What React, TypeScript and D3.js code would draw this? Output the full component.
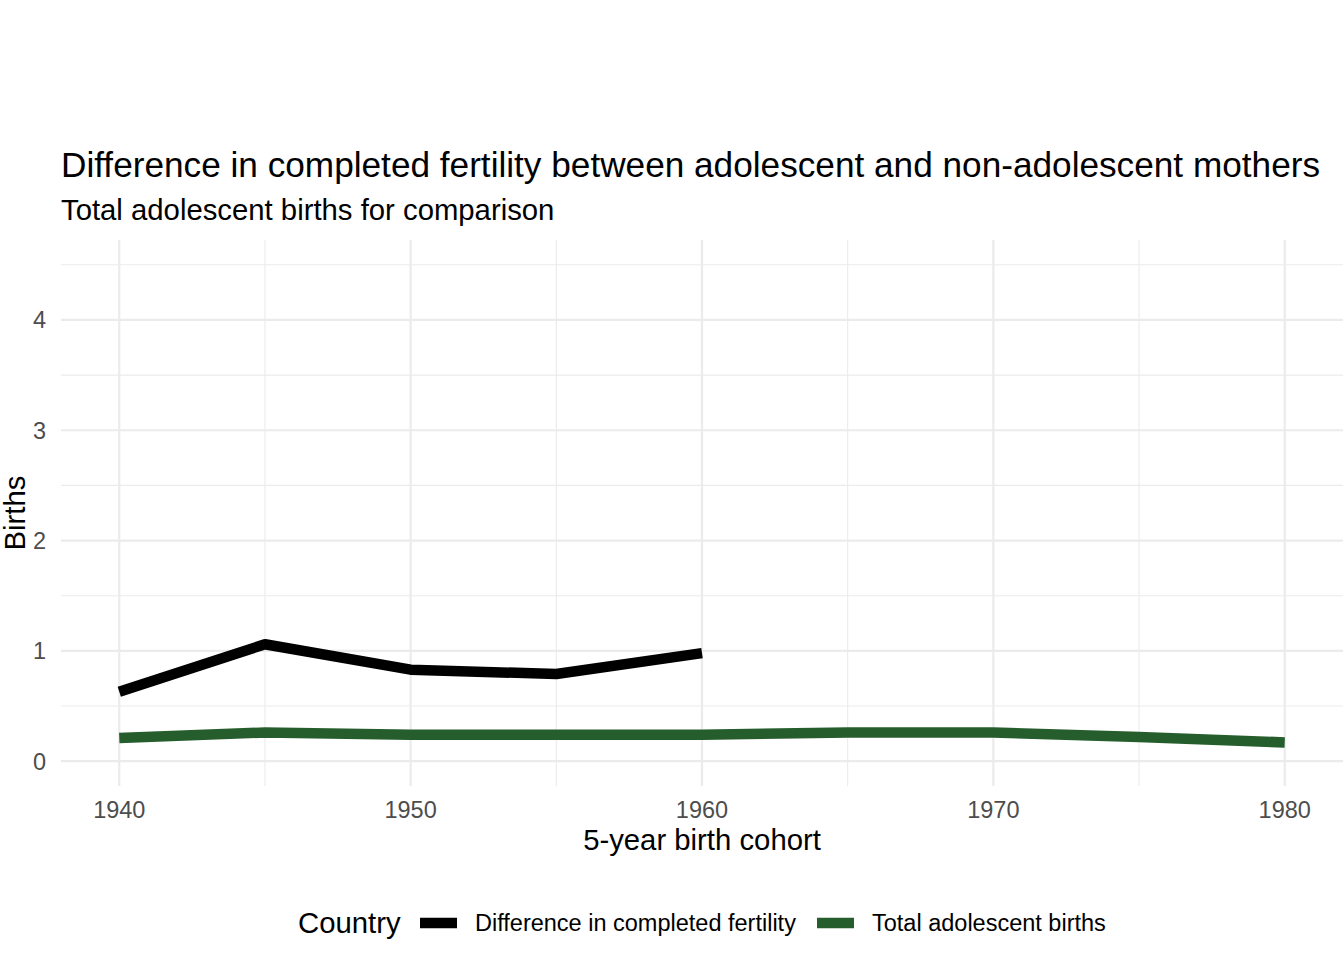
import { useEffect, useRef } from 'react';
import * as d3 from 'd3';

const cohorts = [1940, 1945, 1950, 1955, 1960, 1965, 1970, 1975, 1980];
const diffValues = [0.63, 1.06, 0.83, 0.79, 0.98];
const totalValues = [0.21, 0.26, 0.24, 0.24, 0.24, 0.26, 0.26, 0.22, 0.17];
const xMajor = [1940, 1950, 1960, 1970, 1980];
const xMinor = [1945, 1955, 1965, 1975];
const yMajor = [0, 1, 2, 3, 4];
const yMinor = [0.5, 1.5, 2.5, 3.5, 4.5];
const seriesNames = ['Difference in completed fertility', 'Total adolescent births'];
const seriesColors = ['#000000', '#255e2c'];

const width = 1344;
const height = 960;
const font = '"Liberation Sans", Arial, sans-serif';

export default function App() {
  const svgRef = useRef<SVGSVGElement>(null);

  useEffect(() => {
    if (!svgRef.current) return;
    const svg = d3.select(svgRef.current);
    svg.selectAll('*').remove();

    const panel = { left: 61, right: 1343, top: 240, bottom: 786 };

    const x = d3.scaleLinear().domain([1938, 1982]).range([panel.left, panel.right]);
    const y = d3.scaleLinear().domain([-0.225, 4.725]).range([panel.bottom, panel.top]);

    svg.append('rect').attr('width', width).attr('height', height).attr('fill', '#ffffff');

    // grid: minor first, then major
    const grid = svg.append('g');
    yMinor.forEach(v => {
      grid.append('line')
        .attr('x1', panel.left).attr('x2', panel.right)
        .attr('y1', y(v)).attr('y2', y(v))
        .attr('stroke', '#ebebeb').attr('stroke-width', 1.1);
    });
    xMinor.forEach(v => {
      grid.append('line')
        .attr('x1', x(v)).attr('x2', x(v))
        .attr('y1', panel.top).attr('y2', panel.bottom)
        .attr('stroke', '#ebebeb').attr('stroke-width', 1.1);
    });
    yMajor.forEach(v => {
      grid.append('line')
        .attr('x1', panel.left).attr('x2', panel.right)
        .attr('y1', y(v)).attr('y2', y(v))
        .attr('stroke', '#ebebeb').attr('stroke-width', 2.2);
    });
    xMajor.forEach(v => {
      grid.append('line')
        .attr('x1', x(v)).attr('x2', x(v))
        .attr('y1', panel.top).attr('y2', panel.bottom)
        .attr('stroke', '#ebebeb').attr('stroke-width', 2.2);
    });

    const line = d3.line<[number, number]>()
      .x(d => x(d[0]))
      .y(d => y(d[1]));

    const diffData = diffValues.map((v, i) => [cohorts[i], v] as [number, number]);
    const totalData = totalValues.map((v, i) => [cohorts[i], v] as [number, number]);

    svg.append('path')
      .datum(totalData)
      .attr('d', line)
      .attr('fill', 'none')
      .attr('stroke', seriesColors[1])
      .attr('stroke-width', 10.5)
      .attr('stroke-linejoin', 'round');

    svg.append('path')
      .datum(diffData)
      .attr('d', line)
      .attr('fill', 'none')
      .attr('stroke', seriesColors[0])
      .attr('stroke-width', 10.5)
      .attr('stroke-linejoin', 'round');

    // tick labels
    yMajor.forEach(v => {
      svg.append('text')
        .attr('x', 46).attr('y', y(v) + 8.5)
        .attr('text-anchor', 'end')
        .attr('fill', '#4d4d4d')
        .attr('font-family', font).attr('font-size', '23.5px')
        .text(String(v));
    });
    xMajor.forEach(v => {
      svg.append('text')
        .attr('x', x(v)).attr('y', 818)
        .attr('text-anchor', 'middle')
        .attr('fill', '#4d4d4d')
        .attr('font-family', font).attr('font-size', '23.5px')
        .text(String(v));
    });

    // axis titles
    svg.append('text')
      .attr('x', (panel.left + panel.right) / 2).attr('y', 850)
      .attr('text-anchor', 'middle')
      .attr('fill', '#000')
      .attr('font-family', font).attr('font-size', '29.3px')
      .text('5-year birth cohort');

    svg.append('text')
      .attr('transform', `translate(25,${(panel.top + panel.bottom) / 2}) rotate(-90)`)
      .attr('text-anchor', 'middle')
      .attr('fill', '#000')
      .attr('font-family', font).attr('font-size', '29.3px')
      .text('Births');

    // titles
    svg.append('text')
      .attr('x', 61).attr('y', 177)
      .attr('fill', '#000')
      .attr('font-family', font).attr('font-size', '35.2px')
      .text('Difference in completed fertility between adolescent and non-adolescent mothers');

    svg.append('text')
      .attr('x', 61).attr('y', 220)
      .attr('fill', '#000')
      .attr('font-family', font).attr('font-size', '29.3px')
      .text('Total adolescent births for comparison');

    // legend
    const legend = svg.append('g');
    legend.append('text')
      .attr('x', 298).attr('y', 933)
      .attr('fill', '#000')
      .attr('font-family', font).attr('font-size', '29.3px')
      .text('Country');

    const keyX = [420, 817];
    seriesNames.forEach((name, i) => {
      legend.append('line')
        .attr('x1', keyX[i]).attr('x2', keyX[i] + 37)
        .attr('y1', 923).attr('y2', 923)
        .attr('stroke', seriesColors[i])
        .attr('stroke-width', 10.5);
      legend.append('text')
        .attr('x', keyX[i] + 55).attr('y', 931)
        .attr('fill', '#000')
        .attr('font-family', font).attr('font-size', '23.5px')
        .text(name);
    });
  }, []);

  return (
    <svg
      ref={svgRef}
      width={width}
      height={height}
      style={{ position: 'absolute', left: 0, top: 0 }}
    />
  );
}
